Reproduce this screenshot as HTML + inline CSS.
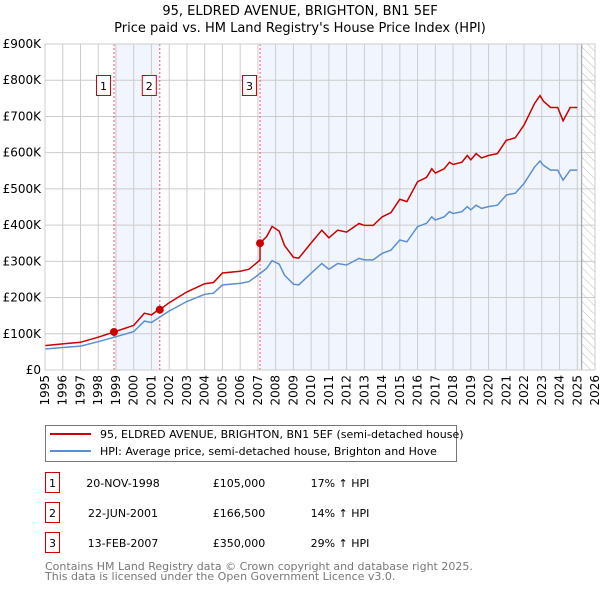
<!DOCTYPE html>
<html><head><meta charset="utf-8"><style>
body{margin:0;background:#fff;}
svg{display:block;font-family:"DejaVu Sans","Liberation Sans",sans-serif;}
</style></head><body>
<svg id="chart" width="600" height="590" viewBox="0 0 600 590">
<defs>
<pattern id="hatch" width="6" height="6" patternUnits="userSpaceOnUse" patternTransform="rotate(-45)">
<line x1="0" y1="0" x2="0" y2="6" stroke="#bbb" stroke-width="1"/>
</pattern>
</defs>
<text x="300" y="15" text-anchor="middle" font-size="13" fill="#000">95, ELDRED AVENUE, BRIGHTON, BN1 5EF</text>
<text x="300" y="32" text-anchor="middle" font-size="13" fill="#000">Price paid vs. HM Land Registry's House Price Index (HPI)</text>
<g id="plot"></g>
<g>
<rect x="45.5" y="425.5" width="411" height="36" fill="#fff" stroke="#777"/>
<line x1="50" y1="434" x2="91" y2="434" stroke="#cc0000" stroke-width="2"/>
<text x="100" y="438" font-size="11">95, ELDRED AVENUE, BRIGHTON, BN1 5EF (semi-detached house)</text>
<line x1="50" y1="451" x2="91" y2="451" stroke="#5b8fd4" stroke-width="2"/>
<text x="100" y="455" font-size="11">HPI: Average price, semi-detached house, Brighton and Hove</text>
</g>
<g id="table" font-size="11"></g>
<text x="45" y="570" font-size="11" fill="#777">Contains HM Land Registry data © Crown copyright and database right 2025.</text>
<text x="45" y="580" font-size="11" fill="#777">This data is licensed under the Open Government Licence v3.0.</text>
</svg>
<script>
const hpiYears=[1995,1996,1997,1998,1999,2000,2000.6,2001,2001.5,2002,2003,2004,2004.5,2005,2006,2006.5,2007,2007.5,2007.8,2008.2,2008.5,2009,2009.3,2010,2010.6,2011,2011.5,2012,2012.7,2013,2013.5,2014,2014.5,2015,2015.4,2016,2016.5,2016.8,2017,2017.5,2017.8,2018,2018.5,2018.8,2019,2019.3,2019.6,2020,2020.5,2021,2021.5,2022,2022.3,2022.6,2022.9,2023.1,2023.5,2023.9,2024.2,2024.6,2025];
const hpiValues=[58,62,66,78,92,106,135,131,147,163,189,209,212,235,239,244,262,281,302,292,262,237,235,267,294,278,294,290,308,304,304,322,331,359,354,396,405,423,414,423,437,432,437,451,442,455,446,451,455,483,488,515,538,561,577,565,552,552,524,552,552];
const saleYears=[1998.89,2001.47,2007.12];
const salePrices=[105,166.5,350];
const saleLabels=["1","2","3"];
const saleDates=["20-NOV-1998","22-JUN-2001","13-FEB-2007"];
const salePriceText=["£105,000","£166,500","£350,000"];
const saleHpiText=["17% ↑ HPI","14% ↑ HPI","29% ↑ HPI"];
const yTicks=[0,100,200,300,400,500,600,700,800,900];
const yTickLabels=["£0","£100K","£200K","£300K","£400K","£500K","£600K","£700K","£800K","£900K"];
const xTicks=[1995,1996,1997,1998,1999,2000,2001,2002,2003,2004,2005,2006,2007,2008,2009,2010,2011,2012,2013,2014,2015,2016,2017,2018,2019,2020,2021,2022,2023,2024,2025,2026];

const NS="http://www.w3.org/2000/svg";
const X0=45,X1=595,Y0=370,Y1=44;
const xs=y=>X0+(y-1995)/(2026-1995)*(X1-X0);
const ys=v=>Y0-v/900*(Y0-Y1);
function mk(tag,attrs,parent){const e=document.createElementNS(NS,tag);for(const k in attrs)e.setAttribute(k,attrs[k]);parent.appendChild(e);return e;}
function hpiAt(t){if(t<=hpiYears[0])return hpiValues[0];for(let i=1;i<hpiYears.length;i++){if(t<=hpiYears[i]){const f=(t-hpiYears[i-1])/(hpiYears[i]-hpiYears[i-1]);return hpiValues[i-1]+f*(hpiValues[i]-hpiValues[i-1]);}}return hpiValues[hpiValues.length-1];}
const plot=document.getElementById('plot');
// shading
const s1=mk('rect',{x:xs(saleYears[0]),y:Y1,width:xs(saleYears[1])-xs(saleYears[0]),height:Y0-Y1,fill:'#eef3fd',opacity:0.8},plot);


const s2=mk('rect',{x:xs(saleYears[2]),y:Y1,width:xs(2025.25)-xs(saleYears[2]),height:Y0-Y1,fill:'#eef3fd',opacity:0.8},plot);


const hz=mk('rect',{x:xs(2025.25),y:Y1,width:X1-xs(2025.25),height:Y0-Y1,fill:'url(#hatch)'},plot);


// grid
xTicks.forEach(t=>{const l=mk('line',{x1:xs(t),x2:xs(t),y1:Y1,y2:Y0,stroke:'#ccc','stroke-width':1},plot);


const tx=mk('text',{x:0,y:0,'font-size':12,'text-anchor':'end',transform:`translate(${xs(t)+4},${Y0+5}) rotate(-90)`},plot);tx.textContent=t;

});
yTicks.forEach((t,i)=>{const l=mk('line',{x1:X0,x2:X1,y1:ys(t),y2:ys(t),stroke:'#ccc','stroke-width':1},plot);


const tx=mk('text',{x:41,y:ys(t)+4,'font-size':12,'text-anchor':'end'},plot);tx.textContent=yTickLabels[i];

});
const nl=mk('line',{x1:xs(2025.25),x2:xs(2025.25),y1:Y1,y2:Y0,stroke:'#999','stroke-width':1},plot);


// sale lines
saleYears.forEach((y,i)=>{const l=mk('line',{x1:xs(y),x2:xs(y),y1:Y1,y2:Y0,stroke:'#e06060','stroke-width':1,'stroke-dasharray':'2,2'},plot);


const b=mk('rect',{x:xs(y)-17.5,y:75.5,width:14,height:20,fill:'#fff',stroke:'#cc0000'},plot);


const t=mk('text',{x:xs(y)-10.5,y:90,'font-size':11,'text-anchor':'middle'},plot);t.textContent=saleLabels[i];

});
// hpi line
const hp=hpiYears.map((y,i)=>`${xs(y).toFixed(1)},${ys(hpiValues[i]).toFixed(1)}`).join(' ');
const hl=mk('polyline',{points:hp,fill:'none',stroke:'#5b8fd4','stroke-width':1.5},plot);


// property line
const pts=[];
hpiYears.forEach((y,i)=>{
  let k=0;for(let j=0;j<saleYears.length;j++)if(y>=saleYears[j])k=j;
  // include sale points
  pts.push([y,hpiValues[i]*salePrices[k]/hpiAt(saleYears[k])]);
});
saleYears.forEach((sy,k)=>{
  if(k>0)pts.push([sy-0.001,hpiAt(sy)*salePrices[k-1]/hpiAt(saleYears[k-1])]);
  pts.push([sy,salePrices[k]]);
});
pts.sort((a,b)=>a[0]-b[0]);
const pl=mk('polyline',{points:pts.map(p=>`${xs(p[0]).toFixed(1)},${ys(p[1]).toFixed(1)}`).join(' '),fill:'none',stroke:'#cc0000','stroke-width':1.5},plot);


saleYears.forEach((y,i)=>{const c=mk('circle',{cx:xs(y),cy:ys(salePrices[i]),r:4,fill:'#cc0000'},plot);

});
const ax=mk('rect',{x:X0,y:Y1,width:X1-X0,height:Y0-Y1,fill:'none',stroke:'#ccc'},plot);


// table
const tb=document.getElementById('table');
const rowY=[483,513,543];
saleYears.forEach((y,i)=>{
  const cy=rowY[i];
  const b=mk('rect',{x:45.5,y:cy-10.5,width:14,height:20,fill:'#fff',stroke:'#cc0000'},tb);
  
  
  const cells=[[52.5,saleLabels[i],'middle','table-row-number'],[123,saleDates[i],'middle','table-sale-date'],[239,salePriceText[i],'middle','table-sale-price'],[340,saleHpiText[i],'middle','table-hpi-change']];
  cells.forEach(c=>{const t=mk('text',{x:c[0],y:cy+4,'text-anchor':c[2]},tb);t.textContent=c[1];
  
  });
});
</script>
</body></html>
